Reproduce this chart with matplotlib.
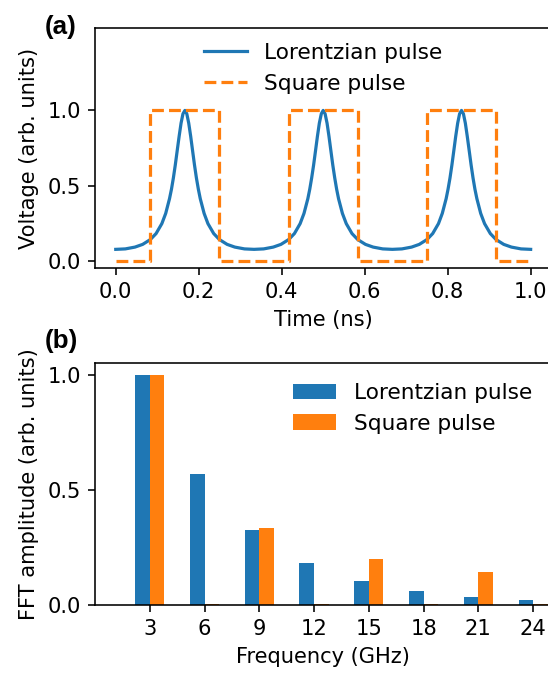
import matplotlib
matplotlib.use("Agg")
import matplotlib.pyplot as plt

# ---- Panel (a): time-domain pulses ----
time_ns = [
    0.0000, 0.0231, 0.0463, 0.0648, 0.0833, 0.0972, 0.1111, 0.1204, 0.1296, 0.1343, 0.1389,
    0.1435, 0.1481, 0.1528, 0.1574, 0.1620, 0.1667, 0.1713, 0.1759, 0.1806, 0.1852, 0.1898,
    0.1944, 0.1991, 0.2037, 0.2130, 0.2222, 0.2361, 0.2500, 0.2685, 0.2870, 0.3102, 0.3333,
    0.3565, 0.3796, 0.3981, 0.4167, 0.4306, 0.4444, 0.4537, 0.4630, 0.4676, 0.4722, 0.4769,
    0.4815, 0.4861, 0.4907, 0.4954, 0.5000, 0.5046, 0.5093, 0.5139, 0.5185, 0.5231, 0.5278,
    0.5324, 0.5370, 0.5463, 0.5556, 0.5694, 0.5833, 0.6019, 0.6204, 0.6435, 0.6667,
    0.6898, 0.7130, 0.7315, 0.7500, 0.7639, 0.7778, 0.7870, 0.7963, 0.8009, 0.8056, 0.8102,
    0.8148, 0.8194, 0.8241, 0.8287, 0.8333, 0.8380, 0.8426, 0.8472, 0.8519, 0.8565, 0.8611,
    0.8657, 0.8704, 0.8796, 0.8889, 0.9028, 0.9167, 0.9352, 0.9537, 0.9769, 1.0000,
]
lorentz_v = [
    0.076, 0.079, 0.091, 0.109, 0.141, 0.181, 0.247, 0.315, 0.413, 0.476, 0.551,
    0.637, 0.732, 0.828, 0.915, 0.977, 1.000, 0.977, 0.915, 0.828, 0.732, 0.637,
    0.551, 0.476, 0.413, 0.315, 0.247, 0.181, 0.141, 0.109, 0.091, 0.079, 0.076,
    0.079, 0.091, 0.109, 0.141, 0.181, 0.247, 0.315, 0.413, 0.476, 0.551,
    0.637, 0.732, 0.828, 0.915, 0.977, 1.000, 0.977, 0.915, 0.828, 0.732, 0.637,
    0.551, 0.476, 0.413, 0.315, 0.247, 0.181, 0.141, 0.109, 0.091, 0.079, 0.076,
    0.079, 0.091, 0.109, 0.141, 0.181, 0.247, 0.315, 0.413, 0.476, 0.551,
    0.637, 0.732, 0.828, 0.915, 0.977, 1.000, 0.977, 0.915, 0.828, 0.732, 0.637,
    0.551, 0.476, 0.413, 0.315, 0.247, 0.181, 0.141, 0.109, 0.091, 0.079, 0.076,
]
square_t = [0.0, 0.0833, 0.0833, 0.25, 0.25, 0.4167, 0.4167, 0.5833, 0.5833,
            0.75, 0.75, 0.9167, 0.9167, 1.0]
square_v = [0, 0, 1, 1, 0, 0, 1, 1, 0, 0, 1, 1, 0, 0]

# ---- Panel (b): FFT amplitudes ----
freqs_ghz = [3, 6, 9, 12, 15, 18, 21, 24]
fft_lorentz = [1.0, 0.568, 0.325, 0.183, 0.104, 0.059, 0.035, 0.020]
fft_square = [1.0, 0.006, 0.333, 0.006, 0.200, 0.006, 0.142, 0.006]

labels = ["Lorentzian pulse", "Square pulse"]
blue = "#1f77b4"
orange = "#ff7f0e"

TICK_FS = 10.5
LABEL_FS = 10.5
LEG_FS = 10.8

plt.rcParams["xtick.labelsize"] = TICK_FS
plt.rcParams["ytick.labelsize"] = TICK_FS
fig = plt.figure(figsize=(548 / 144, 673 / 144), dpi=144)

left = 95 / 548
width = (551.4 - 95) / 548
ax1 = fig.add_axes([left, 1 - 268.3 / 673, width, (268.3 - 27.7) / 673])
ax2 = fig.add_axes([left, 1 - 605 / 673, width, (605 - 363.3) / 673])

ax1.plot(time_ns, lorentz_v, color=blue, lw=1.6, label=labels[0])
ax1.plot(square_t, square_v, color=orange, lw=1.6, ls="--", label=labels[1])
ax1.set_xlim(-0.05, 1.05)
ax1.set_ylim(-0.05, 1.55)
ax1.set_xticks([0.0, 0.2, 0.4, 0.6, 0.8, 1.0])
ax1.set_yticks([0.0, 0.5, 1.0])
ax1.set_xlabel("Time (ns)", fontsize=LABEL_FS)
ax1.set_ylabel("Voltage (arb. units)", fontsize=LABEL_FS)
ax1.legend(loc="upper center", frameon=False, bbox_to_anchor=(0.5, 1.018),
           fontsize=LEG_FS)

ax2.bar(freqs_ghz, fft_lorentz, width=-0.8, align="edge", color=blue, label=labels[0])
ax2.bar(freqs_ghz, fft_square, width=0.8, align="edge", color=orange, label=labels[1])
ax2.set_xlim(0, 25)
ax2.set_ylim(0, 1.05)
ax2.set_xticks(freqs_ghz)
ax2.set_yticks([0.0, 0.5, 1.0])
ax2.set_xlabel("Frequency (GHz)", fontsize=LABEL_FS)
ax2.set_ylabel("FFT amplitude (arb. units)", fontsize=LABEL_FS)
ax2.legend(loc="upper right", frameon=False, fontsize=LEG_FS)

fig.text(45 / 548, 1 - 34.3 / 673, "(a)", fontsize=13, fontweight="bold",
         family=["Liberation Sans", "DejaVu Sans"], va="baseline", ha="left")
fig.text(45 / 548, 1 - 348.3 / 673, "(b)", fontsize=13, fontweight="bold",
         family=["Liberation Sans", "DejaVu Sans"], va="baseline", ha="left")

fig.savefig("out.png", dpi=144)
